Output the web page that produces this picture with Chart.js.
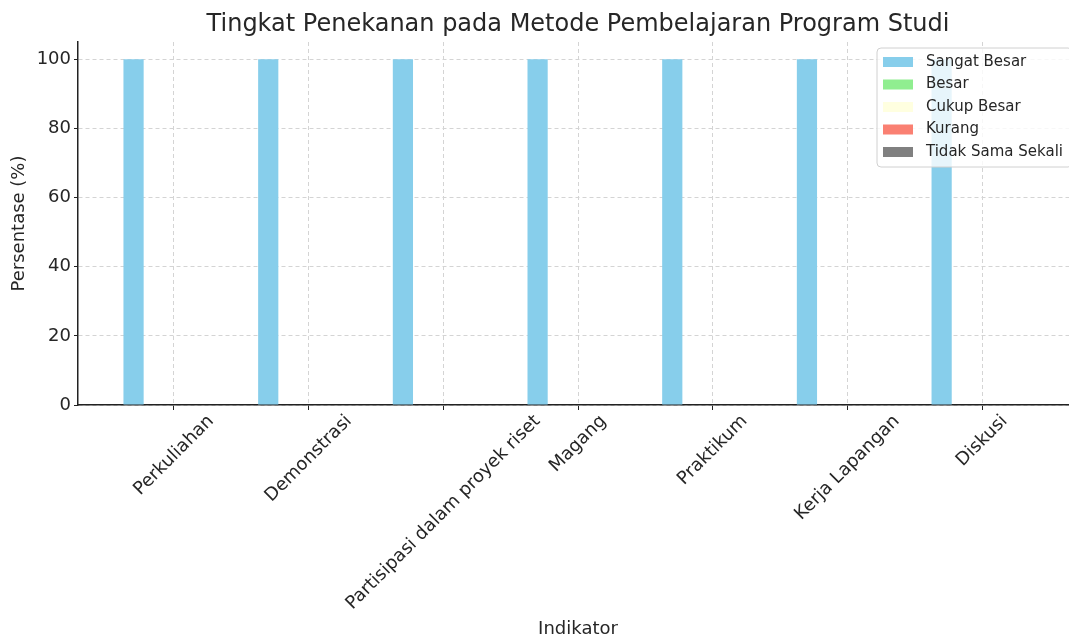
<!DOCTYPE html>
<html>
<head>
<meta charset="utf-8">
<script src="https://cdn.jsdelivr.net/npm/chart.js@4.4.1/dist/chart.umd.min.js"></script>
<style>
  html, body { margin: 0; padding: 0; background: #fff; overflow: hidden; }
  /* the reference is cropped a few pixels inside the right edge of the axes */
  #wrap { width: 1080px; height: 638px; }
</style>
</head>
<body>
<div id="wrap"><canvas id="chart"></canvas></div>
<script>
// --- data ---
const chartTitle = 'Tingkat Penekanan pada Metode Pembelajaran Program Studi';
const categories = ['Perkuliahan', 'Demonstrasi', 'Partisipasi dalam proyek riset', 'Magang', 'Praktikum', 'Kerja Lapangan', 'Diskusi'];
const seriesLabels = ['Sangat Besar', 'Besar', 'Cukup Besar', 'Kurang', 'Tidak Sama Sekali'];
const sangatBesar = [100, 100, 100, 100, 100, 100, 100];
const besar = [0, 0, 0, 0, 0, 0, 0];
const cukupBesar = [0, 0, 0, 0, 0, 0, 0];
const kurang = [0, 0, 0, 0, 0, 0, 0];
const tidakSamaSekali = [0, 0, 0, 0, 0, 0, 0];
const yTicks = [0, 20, 40, 60, 80, 100];

const seriesValues = [sangatBesar, besar, cukupBesar, kurang, tidakSamaSekali];
const seriesColors = ['#87ceeb', '#90ee90', '#ffffe0', '#fa8072', '#808080'];
const barWidth = 0.15;
const FONT = '"DejaVu Sans", "Liberation Sans", sans-serif';
const TEXT = '#262626';

// each series sits beside the category centre, like grouped matplotlib bars
const datasets = seriesValues.map((vals, k) => ({
    label: seriesLabels[k],
    data: vals.map((v, i) => ({ x: i + (k - 2) * barWidth, y: v })),
    backgroundColor: seriesColors[k],
    borderWidth: 0,
    inflateAmount: 0,
    grouped: false,
    barPercentage: 1,
    categoryPercentage: 1
}));

// title, rotated category labels and the legend box
const decorations = {
    id: 'decorations',
    afterDraw(chart) {
        const ctx = chart.ctx;
        const area = chart.chartArea;
        const xs = chart.scales.x;

        ctx.save();
        ctx.fillStyle = TEXT;
        ctx.font = '24px ' + FONT;
        ctx.textAlign = 'center';
        ctx.textBaseline = 'alphabetic';
        ctx.fillText(chartTitle, (area.left + area.right) / 2, 31);

        // labels at 45 degrees, centred on the tick
        const fs = 18;
        ctx.font = fs + 'px ' + FONT;
        ctx.textBaseline = 'middle';
        categories.forEach((c, i) => {
            const w = ctx.measureText(c).width;
            const half = (w + fs) * Math.SQRT1_2 / 2;
            ctx.save();
            ctx.translate(xs.getPixelForValue(i), xs.top + 7 + half);
            ctx.rotate(-Math.PI / 4);
            ctx.fillText(c, 0, 0);
            ctx.restore();
        });

        // legend, upper right inside the axes
        const bx = area.right - 201, by = 48, bw = 195, bh = 119;
        ctx.beginPath();
        ctx.roundRect(bx, by, bw, bh, 4);
        ctx.fillStyle = 'rgba(255,255,255,0.8)';
        ctx.fill();
        ctx.strokeStyle = '#d0d0d0';
        ctx.lineWidth = 1;
        ctx.stroke();
        ctx.font = '15px ' + FONT;
        ctx.textAlign = 'left';
        chart.data.datasets.forEach((ds, k) => {
            const cy = by + 14 + k * 22.5;
            ctx.fillStyle = ds.backgroundColor;
            ctx.fillRect(bx + 6, cy - 5, 30, 10);
            ctx.fillStyle = TEXT;
            ctx.fillText(ds.label, bx + 49, cy);
        });
        ctx.restore();
    }
};

new Chart(document.getElementById('chart'), {
    type: 'bar',
    data: { datasets: datasets },
    plugins: [decorations],
    options: {
        responsive: true,
        maintainAspectRatio: false,
        animation: false,
        devicePixelRatio: 1,
        layout: { padding: { top: 42, right: 2, left: 0, bottom: 0 } },
        plugins: {
            legend: { display: false },
            title: { display: false },
            tooltip: { enabled: false }
        },
        scales: {
            x: {
                type: 'linear',
                offset: false,
                min: -0.7125,
                max: 6.7125,
                afterBuildTicks: s => { s.ticks = categories.map((c, i) => ({ value: i })); },
                afterFit: s => { s.height = 233; },
                ticks: { display: false },
                grid: { offset: false, color: '#d4d4d4', tickColor: '#222', tickLength: 5, drawTicks: true },
                border: { display: true, color: '#222', width: 1.5, dash: [4, 3] },
                title: {
                    display: true, text: 'Indikator', color: TEXT,
                    font: { family: FONT, size: 18, lineHeight: 1 }, padding: { top: 0, bottom: 0 }
                }
            },
            y: {
                min: 0,
                max: 105,
                afterBuildTicks: s => { s.ticks = yTicks.map(v => ({ value: v })); },
                afterFit: s => { s.width = 78; },
                ticks: { color: TEXT, font: { family: FONT, size: 18 }, padding: 3 },
                grid: { color: '#d4d4d4', tickColor: '#222', tickLength: 4, drawTicks: true },
                border: { display: true, color: '#222', width: 1.5, dash: [4, 3] },
                title: {
                    display: true, text: 'Persentase (%)', color: TEXT,
                    font: { family: FONT, size: 18, lineHeight: 1 }, padding: { top: 10, bottom: 0 }
                }
            }
        }
    }
});
</script>
</body>
</html>
